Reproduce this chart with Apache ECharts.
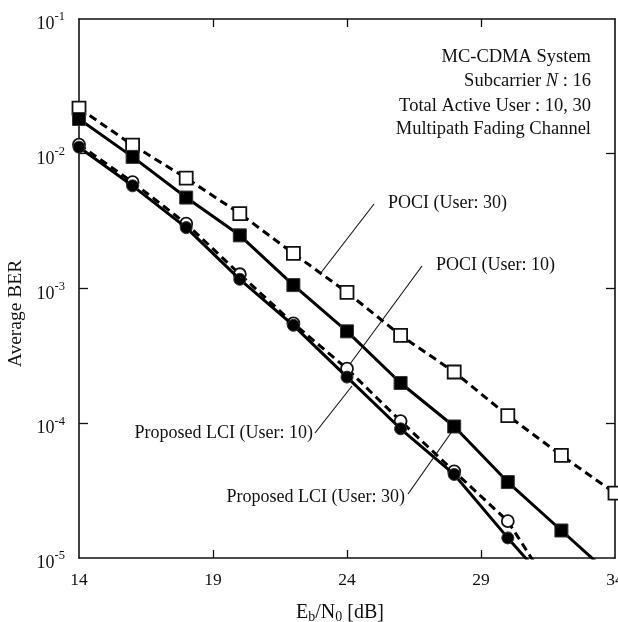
<!DOCTYPE html>
<html>
<head>
<meta charset="utf-8">
<script src="https://cdn.jsdelivr.net/npm/echarts@6/dist/echarts.min.js"></script>
<style>
  html, body { margin: 0; padding: 0; background: #fff; }
  #chart { width: 618px; height: 622px; }
</style>
</head>
<body>
<div id="chart"></div>
<script>
// Eb/N0 sample points [dB]
const snrDb = [14, 16, 18, 20, 22, 24, 26, 28, 30, 32, 34];

// Average BER per scheme (null = not simulated)
const pociUser30 = [0.0218, 0.0116, 0.00659, 0.0036, 0.00182, 0.000937, 0.000449, 0.00024, 0.000114, 5.77e-5, 3.03e-5];
const lciUser30  = [0.0181, 0.00948, 0.00473, 0.00248, 0.00106, 0.000481, 0.000199, 9.46e-5, 3.66e-5, 1.60e-5, 7.0e-6];
const pociUser10 = [0.0117, 0.00615, 0.00303, 0.001276, 0.000551, 0.000254, 0.0001038, 4.39e-5, 1.875e-5, 4.5e-6, null];
const lciUser10  = [0.01119, 0.00578, 0.00283, 0.00117, 0.000533, 0.00022, 9.1e-5, 4.17e-5, 1.41e-5, 5.0e-6, null];

// Axis tick values
const xTickValues = [14, 19, 24, 29, 34];
const yDecades = [1e-5, 1e-4, 1e-3, 1e-2, 1e-1];

const FONT = '"Liberation Serif", "DejaVu Serif", serif';

function pairs(values) {
  const out = [];
  values.forEach((v, i) => { if (v !== null) out.push([snrDb[i], v]); });
  return out;
}

const chart = echarts.init(document.getElementById('chart'), null, { renderer: 'canvas' });

const axisLine = { show: true, lineStyle: { color: '#111', width: 1.6 } };

function lineSeries(name, values, opts) {
  return {
    name: name,
    type: 'line',
    data: pairs(values),
    clip: true,
    z: opts.z,
    symbol: opts.symbol,
    symbolSize: opts.symbolSize,
    showAllSymbol: true,
    lineStyle: { color: '#000', width: 3, type: opts.dashed ? [8, 5] : 'solid', cap: 'butt' },
    itemStyle: {
      color: opts.filled ? '#000' : '#fff',
      borderColor: opts.filled ? '#333' : '#111',
      borderWidth: opts.filled ? 1 : 1.8
    },
    emphasis: { disabled: true },
    animation: false
  };
}

const option = {
  animation: false,
  backgroundColor: '#fff',
  textStyle: { fontFamily: FONT },
  grid: { left: 79, right: 3, top: 19, bottom: 64, containLabel: false, outerBoundsMode: 'none' },
  xAxis: [
    {
      type: 'value',
      min: 14, max: 34, interval: 5,
      axisLine: axisLine,
      axisTick: { show: true, inside: true, length: 8, lineStyle: { color: '#111', width: 1.3 },
        customValues: xTickValues.slice(1, -1) },
      axisLabel: {
        show: true, margin: 13, color: '#111', fontFamily: FONT, fontSize: 17.5,
        customValues: xTickValues,
        formatter: v => (v === 34 ? '{hi|34}' : String(v)),
        rich: { hi: { fontFamily: FONT, fontSize: 17.5, color: '#111', padding: [0, 0, 12, 0] } }
      },
      splitLine: { show: false },
      name: '{e|E}{s|b}{e|/N}{s|0}{e| [dB]}',
      nameLocation: 'middle',
      nameGap: 43,
      nameTextStyle: {
        padding: [0, 14, 0, 0],
        rich: {
          e: { fontFamily: FONT, fontSize: 20, color: '#111' },
          s: { fontFamily: FONT, fontSize: 14, color: '#111', padding: [9, 0, 0, 0] }
        }
      }
    },
    {
      type: 'value', position: 'top',
      min: 14, max: 34, interval: 5,
      axisLine: axisLine,
      axisTick: { show: true, inside: true, length: 8, lineStyle: { color: '#111', width: 1.3 },
        customValues: xTickValues.slice(1, -1) },
      axisLabel: { show: false },
      splitLine: { show: false }
    }
  ],
  yAxis: [
    {
      type: 'log', logBase: 10,
      min: 1e-5, max: 1e-1,
      axisLine: axisLine,
      axisTick: { show: true, inside: true, length: 9, lineStyle: { color: '#111', width: 1.3 },
        customValues: yDecades.slice(1, -1) },
      minorTick: { show: false },
      axisLabel: {
        show: true, margin: 14, color: '#111',
        customValues: yDecades,
        formatter: v => '{b|10}{p|' + Math.round(Math.log10(v)) + '}',
        rich: {
          b: { fontFamily: FONT, fontSize: 18, color: '#111', padding: [11, 0, 0, 0] },
          p: { fontFamily: FONT, fontSize: 12.5, color: '#111', padding: [0, 0, 4, 0] }
        }
      },
      splitLine: { show: false },
      name: 'Average BER',
      nameLocation: 'middle',
      nameGap: 52,
      nameRotate: 90,
      nameTextStyle: { fontFamily: FONT, fontSize: 19.5, color: '#111', padding: [0, 50, 0, 0] }
    },
    {
      type: 'log', logBase: 10, position: 'right',
      min: 1e-5, max: 1e-1,
      axisLine: axisLine,
      axisTick: { show: true, inside: true, length: 9, lineStyle: { color: '#111', width: 1.3 },
        customValues: yDecades.slice(1, -1) },
      axisLabel: { show: false },
      splitLine: { show: false }
    }
  ],
  series: [
    lineSeries('POCI (User: 30)', pociUser30, { symbol: 'rect', symbolSize: 13, dashed: true, filled: false, z: 3 }),
    lineSeries('Proposed LCI (User: 30)', lciUser30, { symbol: 'rect', symbolSize: 13, dashed: false, filled: true, z: 4 }),
    lineSeries('POCI (User: 10)', pociUser10, { symbol: 'circle', symbolSize: 12, dashed: true, filled: false, z: 3 }),
    lineSeries('Proposed LCI (User: 10)', lciUser10, { symbol: 'circle', symbolSize: 12, dashed: false, filled: true, z: 4 })
  ]
};

chart.setOption(option);

// Annotation text and leader lines
const txt = (x, y, text, align, size) => ({
  type: 'text', x: x, y: y, z: 10,
  style: { text: text, fill: '#111', font: (size || 18) + 'px ' + FONT, align: align, verticalAlign: 'middle' }
});
const leader = (x1, y1, x2, y2) => ({
  type: 'line', z: 10, silent: true,
  shape: { x1: x1, y1: y1, x2: x2, y2: y2 },
  style: { stroke: '#111', lineWidth: 1.1 }
});

const INFO_SIZE = 18.5;

chart.setOption({
  graphic: [
    txt(591, 57, 'MC-CDMA System', 'right', INFO_SIZE),
    {
      type: 'text', x: 591, y: 81, z: 10,
      style: {
        text: '{r|Subcarrier }{i|N}{r| : 16}', align: 'right', verticalAlign: 'middle',
        rich: {
          r: { fontFamily: FONT, fontSize: INFO_SIZE, fill: '#111' },
          i: { fontFamily: FONT, fontSize: INFO_SIZE, fontStyle: 'italic', fill: '#111' }
        }
      }
    },
    txt(591, 106, 'Total Active User : 10, 30', 'right', INFO_SIZE),
    txt(591, 129, 'Multipath Fading Channel', 'right', INFO_SIZE),

    txt(388, 203, 'POCI (User: 30)', 'left'),
    leader(374, 204, 320, 274),
    txt(436, 265, 'POCI (User: 10)', 'left'),
    leader(422, 266, 350, 364),
    txt(313, 433, 'Proposed LCI (User: 10)', 'right'),
    leader(315, 433, 352, 386),
    txt(405, 497, 'Proposed LCI (User: 30)', 'right'),
    leader(408, 494, 453, 430)
  ]
});
</script>
</body>
</html>
